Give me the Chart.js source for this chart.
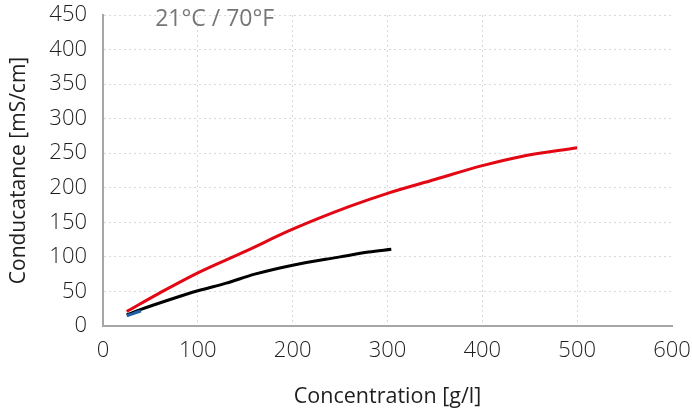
<!DOCTYPE html>
<html>
<head>
<meta charset="utf-8">
<script src="https://cdn.jsdelivr.net/npm/chart.js@4/dist/chart.umd.min.js"></script>
<style>
  html, body { margin: 0; padding: 0; background: #fff; }
  #wrap { width: 692px; height: 410px; position: relative; }
</style>
</head>
<body>
<div id="wrap"><canvas id="chart"></canvas></div>
<script>
// values
const redX   = [25, 60, 100, 150, 200, 260, 300, 350, 400, 440, 500];
const redY   = [21, 48, 77, 108, 140, 173, 192, 212, 232, 245, 258];
const blackX = [25, 40, 70, 100, 130, 160, 200, 250, 280, 304];
const blackY = [16, 24, 38, 51, 62, 75, 88, 100, 107, 111];
const blueX  = [25, 32, 40];
const blueY  = [15, 18, 22];
const xTicks = [0, 100, 200, 300, 400, 500, 600];
const yTicks = [0, 50, 100, 150, 200, 250, 300, 350, 400, 450];
const label  = "21°C / 70°F";

const pts = (xs, ys) => xs.map((x, i) => ({ x, y: ys[i] }));
const FONT = "'Open Sans', 'Noto Sans', sans-serif";

function line(data, color) {
  return {
    data,
    showLine: true,
    borderColor: color,
    backgroundColor: color,
    borderWidth: 3,
    pointRadius: 0,
    tension: 0.4,
    cubicInterpolationMode: "monotone",
  };
}

/* texte de la température, dans la zone de tracé */
const tempLabel = {
  id: "tempLabel",
  afterDraw(chart) {
    const { ctx, scales } = chart;
    ctx.save();
    ctx.font = `23px ${FONT}`;
    ctx.fillStyle = "#767676";
    ctx.textBaseline = "middle";
    ctx.fillText(label, scales.x.getPixelForValue(55), scales.y.getPixelForValue(450) + 4);
    ctx.restore();
  },
};

const borderStyle = { display: true, color: "#a6a6a6", width: 2, dash: [2, 3] };

new Chart(document.getElementById("chart"), {
  type: "scatter",
  data: {
    datasets: [
      line(pts(blueX, blueY), "#1f5fa8"),
      line(pts(blackX, blackY), "#000000"),
      line(pts(redX, redY), "#e30613"),
    ],
  },
  options: {
    responsive: true,
    maintainAspectRatio: false,
    animation: false,
    layout: { padding: { top: 15, right: 20, left: 0, bottom: 0 } },
    plugins: { legend: { display: false }, tooltip: { enabled: false } },
    scales: {
      x: {
        type: "linear",
        min: 0,
        max: 600,
        afterBuildTicks: (s) => { s.ticks = xTicks.map((v) => ({ value: v })); },
        afterFit: (s) => { s.height = 84; s.paddingLeft = 0; s.paddingRight = 0; },
        ticks: { color: "#1e1e1e", font: { family: FONT, size: 22, weight: 300 }, padding: 12 },
        // pas de ligne verticale à 600
        grid: {
          color: (c) => (c.tick && c.tick.value === 600 ? "rgba(0,0,0,0)" : "#d9d9d9"),
          lineWidth: 1,
          drawTicks: false,
        },
        border: borderStyle,
        title: {
          display: true,
          text: "Concentration [g/l]",
          color: "#1e1e1e",
          font: { family: FONT, size: 21.5 },
          padding: { top: 0, bottom: 0 },
        },
      },
      y: {
        min: 0,
        max: 450,
        afterBuildTicks: (s) => { s.ticks = yTicks.map((v) => ({ value: v })); },
        afterFit: (s) => { s.width = 103; s.paddingTop = 0; s.paddingBottom = 0; },
        ticks: { color: "#1e1e1e", font: { family: FONT, size: 22, weight: 300 }, padding: 16 },
        grid: { color: "#d9d9d9", lineWidth: 1, drawTicks: false },
        border: borderStyle,
        title: {
          display: true,
          text: "Conducatance [mS/cm]",
          color: "#1e1e1e",
          font: { family: FONT, size: 21 },
          padding: { top: 6, bottom: 0 },
        },
      },
    },
  },
  plugins: [tempLabel],
});
</script>
</body>
</html>
